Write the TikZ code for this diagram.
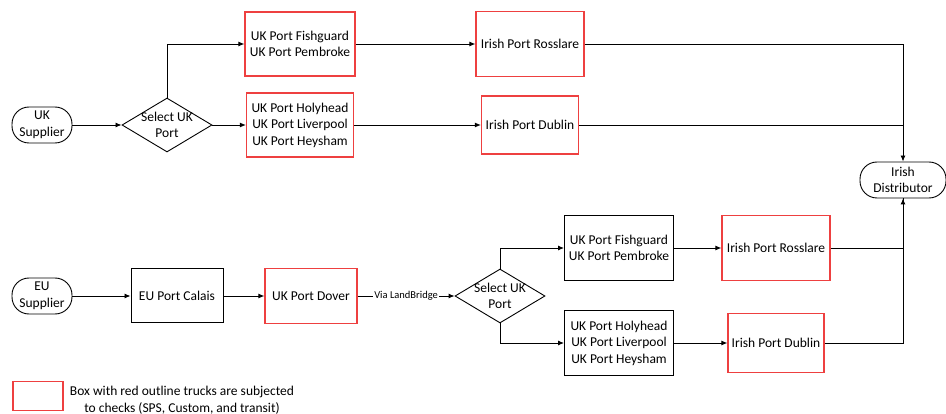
\documentclass[tikz,border=0pt]{standalone}
\usepackage{fontspec}
\setmainfont{Carlito}
\usetikzlibrary{shapes.geometric,arrows.meta}
\definecolor{checkred}{RGB}{238,64,64}

\begin{document}
\begin{tikzpicture}[x=1pt,y=-1pt,
    >={Latex[length=6pt,width=5pt]},
    font=\fontsize{13.5}{16.5}\selectfont,
    line width=0.9pt,
    portbox/.style={draw,rectangle,align=center,line width=1pt,inner sep=1pt},
    checkbox/.style={portbox,draw=checkred,line width=1.2pt},
    endbox/.style={draw,rectangle,rounded corners=17pt,minimum width=60pt,minimum height=36pt,align=center,inner sep=1pt},
    decbox/.style={draw,diamond,minimum width=90pt,minimum height=54pt,inner sep=0pt}]
    \useasboundingbox (0,0) rectangle (946,414);

    % UK route
    \node[endbox](uksup) at (42,125){UK\\Supplier};
    \node[decbox,label={[align=center]center:Select UK\\Port}](ukdec) at (167,125){};
    \node[checkbox,minimum width=110pt,minimum height=64pt](ukfish) at (300,44){UK Port Fishguard\\UK Port Pembroke};
    \node[checkbox,minimum width=107pt,minimum height=64pt](ukholy) at (300,125){UK Port Holyhead\\UK Port Liverpool\\UK Port Heysham};
    \node[checkbox,minimum width=108pt,minimum height=65pt](irros) at (530,44){Irish Port Rosslare};
    \node[checkbox,minimum width=97pt,minimum height=58pt](irdub) at (530,125){Irish Port Dublin};
    \node[endbox,minimum width=86pt](irdist) at (903,180){Irish\\Distributor};

    \draw[->](uksup)--(ukdec);
    \draw[->](ukdec.north)|-(ukfish.west);
    \draw[->](ukdec)--(ukholy);
    \draw[->](ukfish)--(irros);
    \draw[->](ukholy)--(irdub);
    \draw[->](irros.east)-|(irdist.north);
    \draw(irdub.east)--(irdub.east-|irdist.north);

    % EU route
    \node[endbox](eusup) at (42,296){EU\\Supplier};
    \node[portbox,minimum width=92pt,minimum height=54pt](eucal) at (177,296){EU Port Calais};
    \node[checkbox,minimum width=92pt,minimum height=55pt](ukdov) at (311,296){UK Port Dover};
    \node[decbox,label={[align=center]center:Select UK\\Port}](eudec) at (500,296){};
    \node[portbox,minimum width=109pt,minimum height=65pt](ukfish2) at (619,248){UK Port Fishguard\\UK Port Pembroke};
    \node[portbox,minimum width=109pt,minimum height=65pt](ukholy2) at (619,343){UK Port Holyhead\\UK Port Liverpool\\UK Port Heysham};
    \node[checkbox,minimum width=108pt,minimum height=65pt](irros2) at (776,248){Irish Port Rosslare};
    \node[checkbox,minimum width=96pt,minimum height=59pt](irdub2) at (776,343){Irish Port Dublin};

    \draw[->](eusup)--(eucal);
    \draw[->](eucal)--(ukdov);
    \draw[->](ukdov)--node[fill=white,inner sep=1pt,font=\fontsize{10.5}{12}\selectfont]{Via LandBridge}(eudec);
    \draw[->](eudec.north)|-(ukfish2.west);
    \draw[->](eudec.south)|-(ukholy2.west);
    \draw[->](ukfish2)--(irros2);
    \draw[->](ukholy2)--(irdub2);
    \draw[->](irros2.east)-|(irdist.south);
    \draw(irdub2.east)-|(irdist.south);

    % legend
    \node[checkbox,minimum width=50pt,minimum height=29pt](legbox) at (38,396){};
    \node[align=center,inner sep=0pt](legtext) at (182,400){Box with red outline trucks are subjected\\to checks (SPS, Custom, and transit)};
\end{tikzpicture}
\end{document}
